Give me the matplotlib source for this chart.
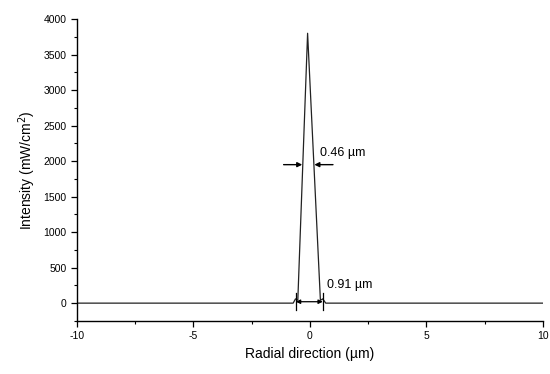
import matplotlib
matplotlib.use("Agg")
import matplotlib.pyplot as plt
from matplotlib.ticker import MultipleLocator

plt.rcParams['font.family'] = ['Liberation Sans', 'DejaVu Sans']
plt.rcParams['axes.unicode_minus'] = False

# profile data (radial position in µm, intensity in mW/cm^2)
radial = [-10, -0.72, -0.62, -0.52, -0.1, 0.45, 0.55, 0.68, 10]
intensity = [0, 0, 60, 40, 3800, 40, 60, 0, 0]

fwhm_label = "0.46 µm"
base_label = "0.91 µm"
fwhm_left, fwhm_right, fwhm_level = -0.33, 0.19, 1950
base_left, base_right, base_level = -0.6, 0.55, 20

fig = plt.figure(figsize=(5.5, 3.74), dpi=100)
ax = fig.add_axes([0.14, 0.142, 0.847, 0.807])
ax.plot(radial, intensity, color='#222222', lw=0.9)

ax.set_xlim(-10, 10)
ax.set_ylim(-250, 4000)
ax.xaxis.set_major_locator(MultipleLocator(5))
ax.xaxis.set_minor_locator(MultipleLocator(2.5))
ax.yaxis.set_major_locator(MultipleLocator(500))
ax.yaxis.set_minor_locator(MultipleLocator(250))
for s in ['top', 'right']:
    ax.spines[s].set_visible(False)
for s in ['left', 'bottom']:
    ax.spines[s].set_linewidth(1.0)
ax.tick_params(which='major', direction='out', length=4, width=0.9, labelsize=7.5)
ax.tick_params(which='minor', direction='out', length=2, width=0.8)

ax.set_xlabel("Radial direction (µm)", fontsize=10)
ax.set_ylabel("Intensity (mW/cm$^2$)", fontsize=10)

# FWHM inward arrows
ax.annotate('', xy=(fwhm_left, fwhm_level), xytext=(fwhm_left - 0.8, fwhm_level),
            arrowprops=dict(arrowstyle='-|>', color='black', lw=1.0, mutation_scale=7,
                            shrinkA=0, shrinkB=0))
ax.annotate('', xy=(fwhm_right, fwhm_level), xytext=(fwhm_right + 0.8, fwhm_level),
            arrowprops=dict(arrowstyle='-|>', color='black', lw=1.0, mutation_scale=7,
                            shrinkA=0, shrinkB=0))
ax.text(0.45, 2110, fwhm_label, fontsize=9, va='center', ha='left')

# base width double arrow
ax.annotate('', xy=(base_left, base_level), xytext=(base_right, base_level),
            arrowprops=dict(arrowstyle='<|-|>', color='black', lw=0.9, mutation_scale=6,
                            shrinkA=0, shrinkB=0))
ax.plot([base_left, base_left], [-100, 140], color='black', lw=0.9)
ax.plot([base_right, base_right], [-100, 140], color='black', lw=0.9)
ax.text(0.75, 255, base_label, fontsize=9, va='center', ha='left')

fig.savefig("out.png", dpi=100)
